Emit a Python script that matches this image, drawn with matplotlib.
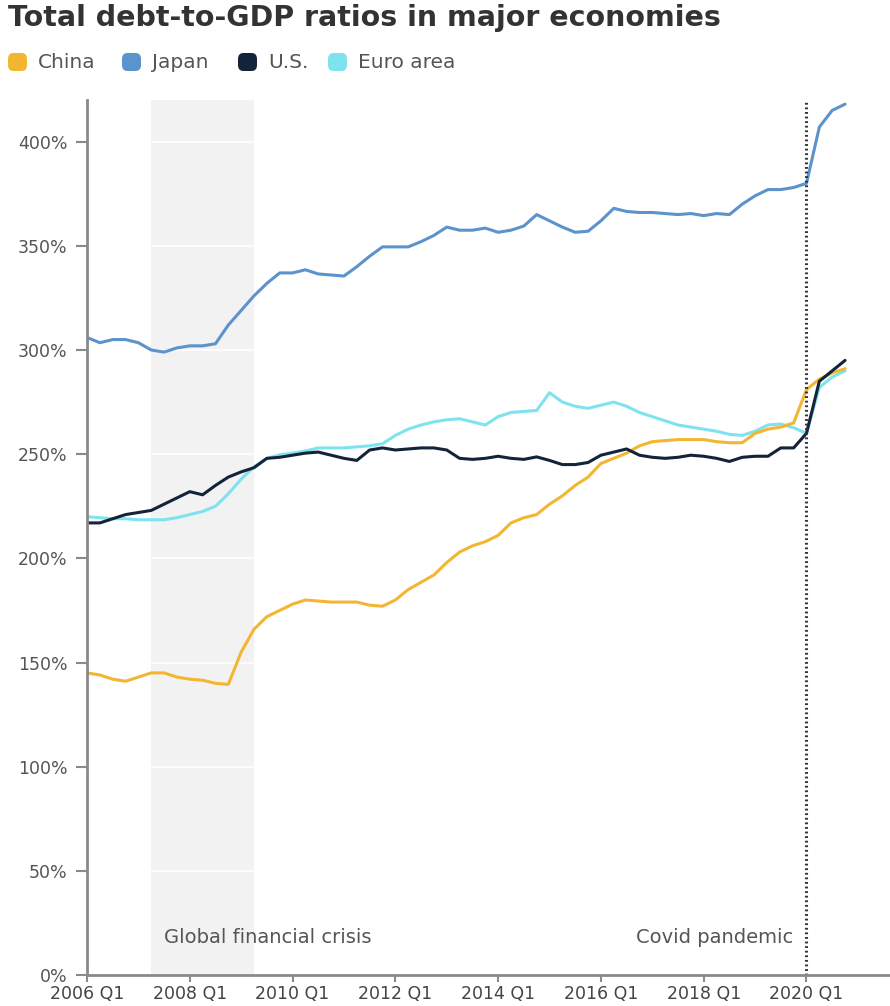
import matplotlib
matplotlib.use("Agg")
import matplotlib.pyplot as plt
from matplotlib.patches import FancyBboxPatch

# Quarterly total debt-to-GDP ratios (%), 2006 Q1 - 2020 Q4
years = list(range(2006, 2021))
quarters = [f"{y} Q{q}" for y in years for q in range(1, 5)]

china = [145, 144, 142, 141, 143, 145, 145, 143, 142, 141.5,
         140, 139.5, 155, 166, 172, 175, 178, 180, 179.5, 179,
         179, 179, 177.5, 177, 180, 185, 188.5, 192, 198, 203,
         206, 208, 211, 217, 219.5, 221, 226, 230, 235, 239,
         245.5, 248, 250.5, 254, 256, 256.5, 257, 257, 257, 256,
         255.5, 255.5, 260, 262, 263, 265, 281, 286, 289, 291]

japan = [306, 303.5, 305, 305, 303.5, 300, 299, 301, 302, 302,
         303, 312, 319, 326, 332, 337, 337, 338.5, 336.5, 336,
         335.5, 340, 345, 349.5, 349.5, 349.5, 352, 355, 359, 357.5,
         357.5, 358.5, 356.5, 357.5, 359.5, 365, 362, 359, 356.5, 357,
         362, 368, 366.5, 366, 366, 365.5, 365, 365.5, 364.5, 365.5,
         365, 370, 374, 377, 377, 378, 380, 407, 415, 418]

us = [217, 217, 219, 221, 222, 223, 226, 229, 232, 230.5,
      235, 239, 241.5, 243.5, 248, 248.5, 249.5, 250.5, 251, 249.5,
      248, 247, 252, 253, 252, 252.5, 253, 253, 252, 248,
      247.5, 248, 249, 248, 247.5, 248.7, 247, 245, 245, 246,
      249.5, 251, 252.5, 249.5, 248.5, 248, 248.5, 249.5, 249, 248,
      246.5, 248.5, 249, 249, 253, 253, 260, 285, 290, 295]

euro = [220, 219.5, 219, 219, 218.5, 218.5, 218.5, 219.5, 221, 222.5,
        225, 231, 238, 244, 248, 249.7, 250.5, 251.5, 253, 253,
        253, 253.5, 254, 255, 259, 262, 264, 265.5, 266.5, 267,
        265.5, 264, 268, 270, 270.5, 271, 279.5, 275, 273, 272,
        273.5, 275, 273, 270, 268, 266, 264, 263, 262, 261,
        259.5, 259, 261, 264, 264.5, 262.7, 260, 282, 287, 290]

series_names = ["China", "Japan", "U.S.", "Euro area"]
series_colors = ["#f2b632", "#5b93cc", "#13243a", "#7fe3ef"]

tick_labels = [f"{y} Q1" for y in range(2006, 2021, 2)]
y_ticks = [0, 50, 100, 150, 200, 250, 300, 350, 400]

crisis_start, crisis_end = "2007 Q2", "2009 Q2"
covid_start = "2020 Q1"

plt.rcParams["font.family"] = ["DejaVu Sans"]

fig = plt.figure(figsize=(8.9, 10.06), dpi=100)
ax = fig.add_axes([87 / 890, 1 - 975 / 1006, 1 - 87 / 890, (975 - 100) / 1006])

x = list(range(len(quarters)))
ax.set_xlim(0, 62.5)
ax.set_ylim(0, 420)

# Shaded crisis period
ax.axvspan(quarters.index(crisis_start), quarters.index(crisis_end),
           color="#f2f2f2", zorder=0, lw=0)
for yv in y_ticks[1:]:
    ax.axhline(yv, color="white", lw=1.2, zorder=0.5)

# Series (draw order: Euro, China, US, Japan)
order = [3, 0, 2, 1]
data = [china, japan, us, euro]
for i in order:
    ax.plot(x, data[i], color=series_colors[i], lw=2.2, zorder=3,
            solid_capstyle="round", solid_joinstyle="round")

# Covid marker
cx = quarters.index(covid_start)
ax.axvline(cx, color="#333333", lw=2.2, ls=(0, (0.6, 0.9)), zorder=4)

ax.text(6.0, 18, "Global financial crisis", fontsize=14, color="#555555",
        ha="left", va="center", zorder=5)
ax.text(cx - 1.0, 18, "Covid pandemic", fontsize=14, color="#555555",
        ha="right", va="center", zorder=5)

# Axes styling
for s in ["top", "right"]:
    ax.spines[s].set_visible(False)
for s in ["left", "bottom"]:
    ax.spines[s].set_color("#8a8a8a")
    ax.spines[s].set_linewidth(2.0)
    ax.spines[s].set_zorder(6)

ax.set_xticks([quarters.index(t) for t in tick_labels])
ax.set_xticklabels(tick_labels)
ax.set_yticks(y_ticks)
ax.set_yticklabels([f"{v}%" for v in y_ticks])
ax.tick_params(axis="x", length=5, width=1.5, color="#8a8a8a",
               labelsize=12.5, labelcolor="#444444", pad=2)
ax.tick_params(axis="y", length=8, width=1.5, color="#8a8a8a",
               labelsize=12.5, labelcolor="#555555", pad=6)

# Title
fig.text(8 / 890, 1 - 18 / 1006, "Total debt-to-GDP ratios in major economies",
         fontsize=20.5, fontweight="bold", color="#333333", ha="left", va="center")

# Legend
legend_x = [8, 122, 238, 328]
ly = 1 - 62 / 1006
for px, name, col in zip(legend_x, series_names, series_colors):
    box = FancyBboxPatch((px / 890, ly - 9 / 1006), 19 / 890, 18 / 1006,
                         boxstyle="round,pad=0,rounding_size=0.006",
                         transform=fig.transFigure, facecolor=col,
                         edgecolor="none")
    fig.patches.append(box)
    fig.text((px + 30) / 890, ly, name, fontsize=14.5, color="#555555",
             ha="left", va="center")

fig.savefig("out.png", dpi=100, facecolor="white")
